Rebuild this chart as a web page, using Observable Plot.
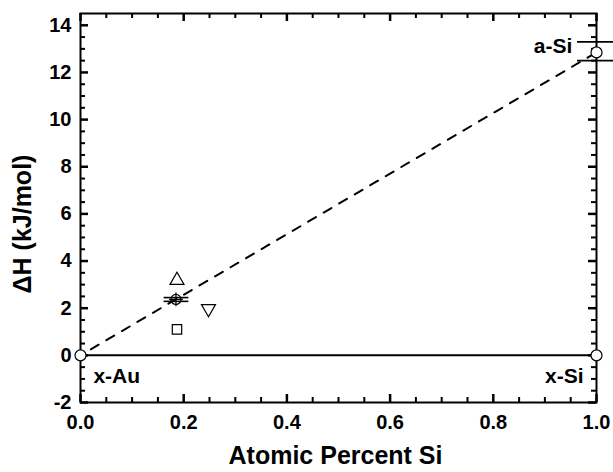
<!DOCTYPE html>
<html><head><meta charset="utf-8">
<script src="https://cdn.jsdelivr.net/npm/d3@7"></script>
<script src="https://cdn.jsdelivr.net/npm/@observablehq/plot@0.6"></script>
<style>
body{margin:0;background:#fff}
svg{font-family:"Liberation Sans",Arial,sans-serif}
</style>
</head><body><div id="chart"></div>
<script>
// Tick values
const xMajorTicks = [0.0, 0.2, 0.4, 0.6, 0.8, 1.0];
const xMinorTicks = [0.05, 0.1, 0.15, 0.25, 0.3, 0.35, 0.45, 0.5, 0.55, 0.65, 0.7, 0.75, 0.85, 0.9, 0.95];
const yMajorTicks = [-2, 0, 2, 4, 6, 8, 10, 12, 14];
const yMinorTicks = [-1.5, -1, -0.5, 0.5, 1, 1.5, 2.5, 3, 3.5, 4.5, 5, 5.5, 6.5, 7, 7.5, 8.5, 9, 9.5, 10.5, 11, 11.5, 12.5, 13, 13.5];

// Reference states (open circles)
const refX = [0, 1, 1];
const refY = [0, 0, 12.85];

// Lines
const crystalLineX = [0, 1];
const crystalLineY = [0, 0];
const amorphLineX = [0, 1];
const amorphLineY = [0, 12.85];

// a-Si error bar
const aSiErrX = [1, 1];
const aSiErrY = [13.3, 12.5];

// Alloy measurements near x = 0.19
const crossX = [0.185];
const crossY = [2.37];
const crossErrY = [2.45, 2.29];
const crossErrX1 = [0.162, 0.162];
const crossErrX2 = [0.21, 0.21];
const triUpX = [0.187];
const triUpY = [3.18];
const triDownX = [0.248];
const triDownY = [1.98];
const squareX = [0.187];
const squareY = [1.10];

// Annotations
const noteText = ["x-Au", "x-Si", "a-Si"];
const noteX = [0.025, 0.975, 0.953];
const noteY = [-0.9, -0.9, 13.1];
const noteAnchor = ["start", "end", "end"];

const W = 613, H = 472, mL = 80, mR = 17, mT = 13, mB = 70;
const frameW = W - mL - mR, frameH = H - mT - mB;

const toRows = (xs, ys) => xs.map((x, i) => ({x, y: ys[i]}));
const hline = {draw(ctx, size) { const w = Math.sqrt(size); ctx.moveTo(-w, 0); ctx.lineTo(w, 0); }};
const notes = noteText.map((t, i) => ({t, x: noteX[i], y: noteY[i], a: noteAnchor[i]}));

// inward tick marks: rules spanning the frame, inset so only a short piece remains at the edge
const tickMarks = (values, anchor, len, sw) => {
  const o = {stroke: "#000", strokeWidth: sw};
  if (anchor === "bottom") return Plot.ruleX(values, {x: d => d, insetTop: frameH - len, ...o});
  if (anchor === "top") return Plot.ruleX(values, {x: d => d, insetBottom: frameH - len, ...o});
  if (anchor === "left") return Plot.ruleY(values, {y: d => d, insetRight: frameW - len, ...o});
  return Plot.ruleY(values, {y: d => d, insetLeft: frameW - len, ...o});
};

const bold = {fontWeight: "bold", fill: "black"};
const chart = Plot.plot({
  width: W,
  height: H,
  marginLeft: mL,
  marginRight: mR,
  marginTop: mT,
  marginBottom: mB,
  x: {domain: [0, 1], label: null},
  y: {domain: [-2, 14.5], label: null},
  style: {fontFamily: "Liberation Sans, Arial, sans-serif", background: "white"},
  marks: [
    // tick labels
    Plot.axisX({anchor: "bottom", ticks: xMajorTicks, tickSize: 0, tickPadding: 12, tickFormat: d3.format(".1f"), fontSize: 20, ...bold}),
    Plot.axisY({anchor: "left", ticks: yMajorTicks, tickSize: 0, tickPadding: 9, tickFormat: d => String(d), fontSize: 20, ...bold}),
    Plot.frame({strokeWidth: 2, fill: "none", stroke: "black"}),
    // tick marks (inward, on all four sides)
    tickMarks(xMajorTicks, "bottom", 8, 2.5),
    tickMarks(xMinorTicks, "bottom", 5, 2),
    tickMarks(xMajorTicks, "top", 8, 2.5),
    tickMarks(xMinorTicks, "top", 5, 2),
    tickMarks(yMajorTicks, "left", 8, 2.5),
    tickMarks(yMinorTicks, "left", 5, 2),
    tickMarks(yMajorTicks, "right", 8, 2.5),
    tickMarks(yMinorTicks, "right", 5, 2),
    // axis titles
    Plot.text(["Atomic Percent Si"], {frameAnchor: "bottom", text: d => d, textAnchor: "middle", lineAnchor: "middle", dx: -3, dy: 53, fontSize: 25, ...bold}),
    Plot.text(["ΔH (kJ/mol)"], {frameAnchor: "left", text: d => d, textAnchor: "middle", lineAnchor: "middle", rotate: -90, dx: -58, dy: 16, fontSize: 25, ...bold}),
    // lines
    Plot.line(toRows(crystalLineX, crystalLineY), {x: "x", y: "y", stroke: "black", strokeWidth: 2}),
    Plot.line(toRows(amorphLineX, amorphLineY), {x: "x", y: "y", stroke: "black", strokeWidth: 2, strokeDasharray: "9,9", strokeDashoffset: -12}),
    // error bars
    Plot.dot(toRows(aSiErrX, aSiErrY), {x: "x", y: "y", symbol: hline, r: 11, stroke: "black", strokeWidth: 1.8}),
    Plot.ruleY(crossErrY.map((y, i) => ({y, x1: crossErrX1[i], x2: crossErrX2[i]})), {y: "y", x1: "x1", x2: "x2", stroke: "black", strokeWidth: 1.6}),
    // points
    Plot.dot(toRows(refX, refY), {x: "x", y: "y", r: 5.5, fill: "white", stroke: "black", strokeWidth: 1.2}),
    Plot.dot(toRows(crossX, crossY), {x: "x", y: "y", r: 5, fill: "none", stroke: "black", strokeWidth: 1.2}),
    Plot.dot(toRows(crossX, crossY), {x: "x", y: "y", r: 4.5, symbol: "plus", stroke: "black", strokeWidth: 1.2}),
    Plot.dot(toRows(triUpX, triUpY), {x: "x", y: "y", r: 5.2, symbol: "triangle", fill: "white", stroke: "black", strokeWidth: 1.2}),
    Plot.dot(toRows(triDownX, triDownY), {x: "x", y: "y", r: 5.2, symbol: "triangle", rotate: 180, fill: "white", stroke: "black", strokeWidth: 1.2}),
    Plot.dot(toRows(squareX, squareY), {x: "x", y: "y", r: 5.3, symbol: "square", fill: "white", stroke: "black", strokeWidth: 1.2}),
    // annotations
    Plot.text(notes.filter(d => d.a === "start"), {x: "x", y: "y", text: "t", textAnchor: "start", fontSize: 21, ...bold}),
    Plot.text(notes.filter(d => d.a === "end"), {x: "x", y: "y", text: "t", textAnchor: "end", fontSize: 21, ...bold})
  ]
});
document.getElementById("chart").appendChild(chart);
</script>
</body></html>
